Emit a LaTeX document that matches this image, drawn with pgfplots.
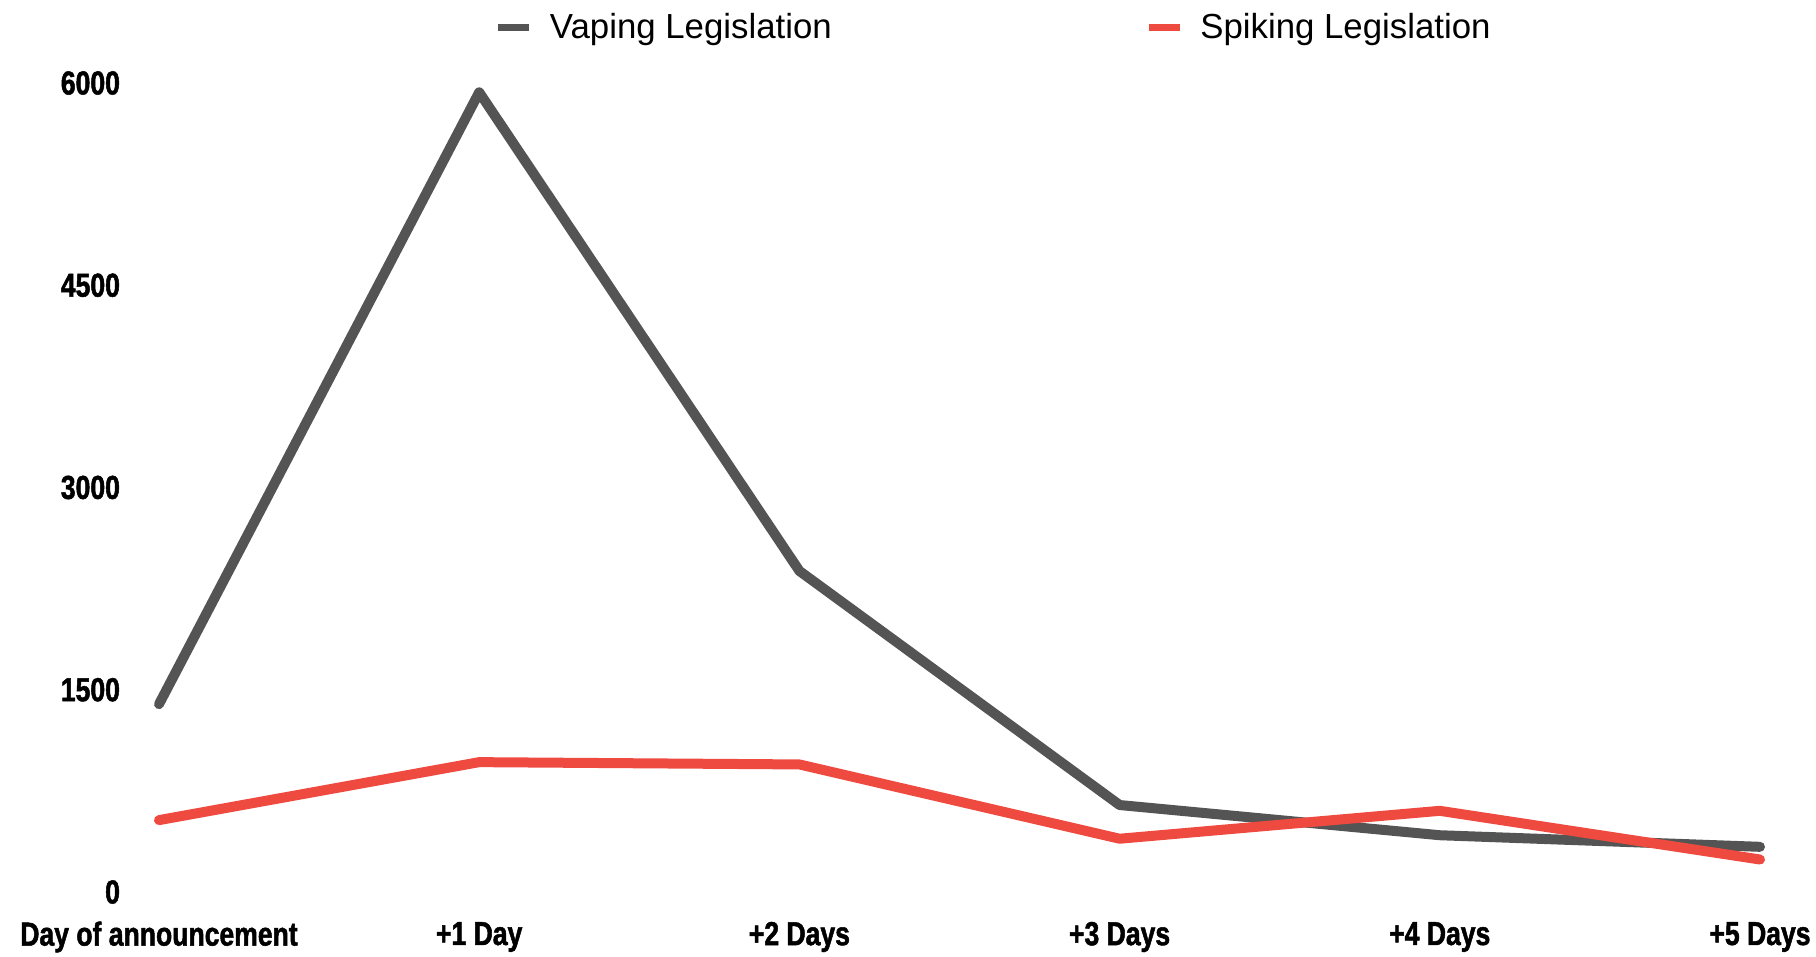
\documentclass[border=0pt]{standalone}
\usepackage{pgfplots}
\pgfplotsset{compat=1.18}
\usepackage{fontspec}
\setmainfont{Liberation Sans}
\newfontfamily\tickfont{Liberation Sans}[FakeStretch=0.8, BoldFeatures={FakeBold=1.5}]
\definecolor{vape}{RGB}{84,84,84}
\definecolor{spike}{RGB}{239,74,64}

\begin{document}
\begin{tikzpicture}
\useasboundingbox (0,0) rectangle (908pt,478.5pt);
\begin{axis}[
  at={(79.5pt,32.5pt)}, anchor=origin,
  scale only axis, width=800.5pt, height=404.5pt,
  xmin=0, xmax=5, ymin=0, ymax=6000,
  axis line style={draw=none}, clip=false,
  xtick={0,...,5},
  xticklabels={Day of announcement,+1 Day,+2 Days,+3 Days,+4 Days,+5 Days},
  ytick={0,1500,3000,4500,6000},
  tick style={draw=none},
  every x tick label/.style={anchor=center, yshift=-22.5pt},
  every y tick label/.style={anchor=east, xshift=-16pt},
  xticklabel style={font=\tickfont\bfseries\fontsize{16.6}{17}\selectfont},
  yticklabel style={font=\tickfont\bfseries\fontsize{16.6}{17}\selectfont},
  /pgf/number format/assume math mode=true,
  /pgf/number format/set thousands separator={},
  legend columns=2,
  legend style={at={(0.2096,1.069)}, anchor=west, draw=none, fill=none,
    inner sep=0pt, font=\fontsize{17.4}{18}\selectfont,
    /tikz/every odd column/.append style={column sep=0pt},
    /tikz/every even column/.append style={column sep=154.8pt}},
  legend image code/.code={\draw[line width=3.5pt,line cap=butt,#1] (0pt,0pt) -- (15.5pt,0pt);},
  legend cell align=left,
]
\addplot[vape, line width=5pt, line cap=round, line join=round] coordinates {
  (0,1393) (1,5931) (2,2381) (3,645) (4,421) (5,335)
};
\addlegendentry{\hspace{6.5pt}Vaping Legislation}
\addplot[spike, line width=5pt, line cap=round, line join=round] coordinates {
  (0,533) (1,963) (2,946) (3,395) (4,602) (5,241)
};
\addlegendentry{\hspace{6.5pt}Spiking Legislation}
\end{axis}
\end{tikzpicture}
\end{document}
